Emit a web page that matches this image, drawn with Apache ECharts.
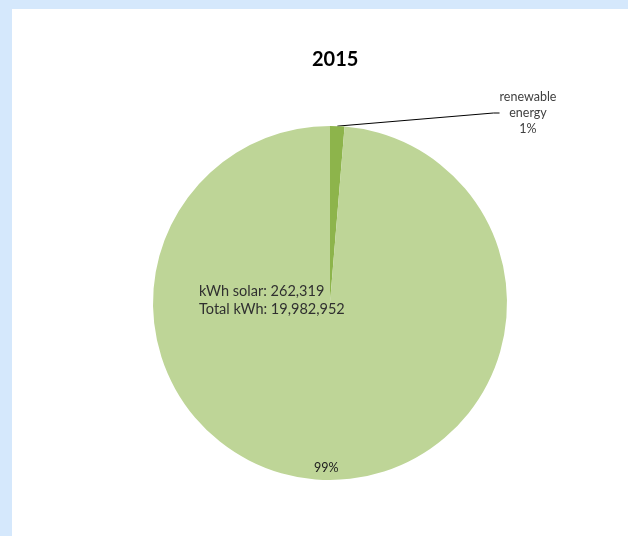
<!DOCTYPE html>
<html>
<head>
<meta charset="utf-8">
<script src="https://cdn.jsdelivr.net/npm/echarts@6/dist/echarts.min.js"></script>
<style>
  html, body { margin: 0; padding: 0; background: #d5e8fc; }
  #frame { position: absolute; left: 12px; top: 9px; width: 616px; height: 527px; background: #ffffff; }
  #chart { width: 616px; height: 527px; }
</style>
</head>
<body>
<div id="frame"><div id="chart"></div></div>
<script>
// 2015 electricity use: solar share of total kWh
const title = '2015';
const categories = ['renewable\nenergy', ''];
const totalKwh = 19982952;
const solarKwh = 262319;
const values = [solarKwh, totalKwh - solarKwh];
const noteLines = ['kWh solar: 262,319', 'Total kWh: 19,982,952'];

const chart = echarts.init(document.getElementById('chart'), null, { renderer: 'canvas' });
const font = 'Lato, "Open Sans", sans-serif';

chart.setOption({
  animation: false,
  title: {
    text: title,
    left: 295,
    top: 36,
    textStyle: { fontFamily: font, fontWeight: 'bold', fontSize: 20, color: '#000000' }
  },
  series: [{
    type: 'pie',
    center: [318, 294],
    radius: 177,
    startAngle: 90,
    clockwise: true,
    avoidLabelOverlap: false,
    itemStyle: { borderWidth: 0 },
    labelLine: { show: true, length: 6, length2: 6, lineStyle: { color: '#000000', width: 1 } },
    data: [
      {
        name: categories[0], value: values[0],
        itemStyle: { color: '#8db44b' },
        label: {
          show: true, position: 'outside',
          formatter: '{b}\n{d}%',
          align: 'center',
          fontFamily: font, fontSize: 12.5, lineHeight: 16, color: '#404040'
        }
      },
      {
        name: categories[1], value: values[1],
        itemStyle: { color: '#bed597' },
        labelLine: { show: false },
        label: {
          show: true, position: 'inside',
          formatter: '{d}%',
          fontFamily: font, fontSize: 12.5, color: '#202020'
        }
      }
    ],
    percentPrecision: 0,
    labelLayout: function (p) {
      if (p.dataIndex === 0) {
        return { x: 516, y: 104, align: 'center', verticalAlign: 'middle' };
      }
      return { dy: 74 };
    }
  }],
  graphic: [{
    type: 'text',
    z: 100,
    left: 187,
    top: 273,
    style: {
      text: noteLines.join('\n'),
      font: '14.5px ' + font,
      lineHeight: 18,
      fill: '#303030'
    }
  }]
});
</script>
</body>
</html>
